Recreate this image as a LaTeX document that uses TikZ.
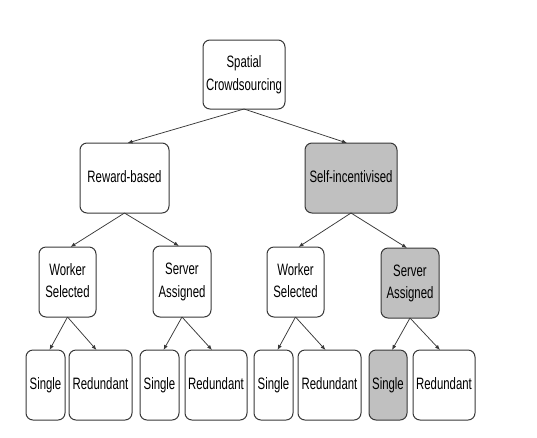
\documentclass[tikz,border=0pt]{standalone}
\usepackage{fontspec}
\setmainfont{Liberation Sans}
\usepackage{graphicx}
\usetikzlibrary{arrows.meta}
\newcommand{\lbl}[1]{\scalebox{0.69}[1]{\begin{tabular}{@{}c@{}}#1\end{tabular}}}
\definecolor{edgec}{HTML}{383838}
\definecolor{shade}{HTML}{C0C0C0}
\begin{document}
\begin{tikzpicture}[x=1pt,y=-1pt,
  box/.style={draw=edgec,line width=1pt,rounded corners=7pt,fill=white,
    inner sep=0pt,outer sep=0pt,
    font=\fontsize{16.5}{22.3}\selectfont,text=black},
  hl/.style={fill=shade},
  arr/.style={draw=edgec,line width=0.75pt,-{Latex[length=5pt,width=4pt]}}]
\useasboundingbox (0,0) rectangle (537,437);
\node[box,minimum width=82pt,minimum height=69pt] (root) at (244,74.5) {\lbl{Spatial\\Crowdsourcing}};
\node[box,minimum width=89pt,minimum height=70pt] (rew) at (124.5,178) {\lbl{Reward-based}};
\node[box,hl,minimum width=92pt,minimum height=70pt] (self) at (351,178) {\lbl{Self-incentivised}};
\node[box,minimum width=57pt,minimum height=70pt] (ws1) at (67.5,282) {\lbl{Worker\\Selected}};
\node[box,minimum width=58pt,minimum height=71pt] (sa1) at (182,281.5) {\lbl{Server\\Assigned}};
\node[box,minimum width=57pt,minimum height=70pt] (ws2) at (295.5,282) {\lbl{Worker\\Selected}};
\node[box,hl,minimum width=58pt,minimum height=70pt] (sa2) at (410,283) {\lbl{Server\\Assigned}};
\node[box,minimum width=39pt,minimum height=70pt] (s1) at (45.5,385) {\lbl{Single}};
\node[box,minimum width=63pt,minimum height=70pt] (r1) at (100.5,385) {\lbl{Redundant}};
\node[box,minimum width=39pt,minimum height=70pt] (s2) at (159.5,385) {\lbl{Single}};
\node[box,minimum width=62pt,minimum height=70pt] (r2) at (216,385) {\lbl{Redundant}};
\node[box,minimum width=39pt,minimum height=70pt] (s3) at (273.5,385) {\lbl{Single}};
\node[box,minimum width=63pt,minimum height=70pt] (r3) at (329.5,385) {\lbl{Redundant}};
\node[box,hl,minimum width=38pt,minimum height=70pt] (s4) at (388,385) {\lbl{Single}};
\node[box,minimum width=62pt,minimum height=70pt] (r4) at (444,385) {\lbl{Redundant}};
\draw[arr] (root.south) -- ([xshift=3pt]rew.north);
\draw[arr] (root.south) -- ([xshift=-4pt]self.north);
\draw[arr] (rew.south) -- ([xshift=3pt]ws1.north);
\draw[arr] (rew.south) -- ([xshift=-3pt]sa1.north);
\draw[arr] (self.south) -- ([xshift=3pt]ws2.north);
\draw[arr] (self.south) -- ([xshift=-3pt]sa2.north);
\draw[arr] (ws1.south) -- ([xshift=4pt]s1.north);
\draw[arr] (ws1.south) -- ([xshift=-4pt]r1.north);
\draw[arr] (sa1.south) -- ([xshift=4pt]s2.north);
\draw[arr] (sa1.south) -- ([xshift=-4pt]r2.north);
\draw[arr] (ws2.south) -- ([xshift=4pt]s3.north);
\draw[arr] (ws2.south) -- ([xshift=-4pt]r3.north);
\draw[arr] (sa2.south) -- ([xshift=4pt]s4.north);
\draw[arr] (sa2.south) -- ([xshift=-4pt]r4.north);
\end{tikzpicture}
\end{document}
